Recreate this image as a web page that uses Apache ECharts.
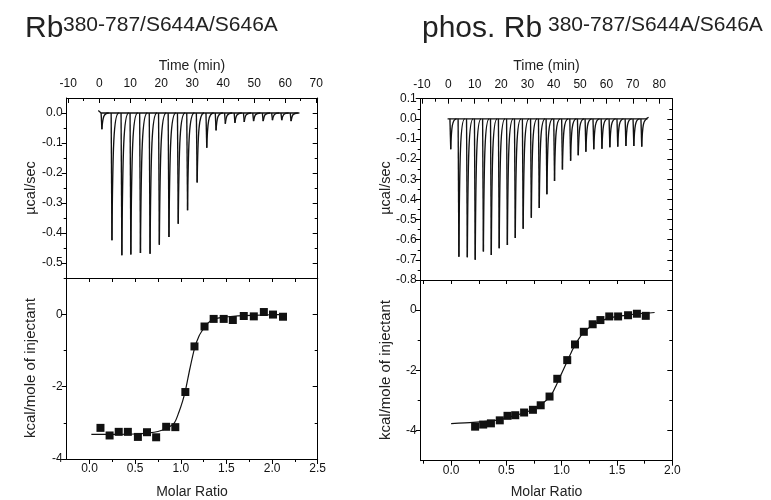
<!DOCTYPE html>
<html><head><meta charset="utf-8">
<script src="https://cdn.jsdelivr.net/npm/echarts@6/dist/echarts.min.js"></script>
<style>html,body{margin:0;padding:0;background:#fff}#c{width:771px;height:500px}</style>
</head><body><div id="c"></div>
<script>
// ---------- data: left (Rb380-787/S644A/S646A) ----------
const leftInjTime = [0.86, 4.1, 7.3, 10.2, 13.3, 16.4, 19.4, 22.5, 25.5, 28.5, 31.6, 34.7, 37.7, 40.7, 43.8, 46.8, 49.8, 52.9, 55.9, 58.9, 61.9];
const leftInjPeak = [-0.054, -0.424, -0.474, -0.472, -0.467, -0.469, -0.439, -0.413, -0.369, -0.324, -0.232, -0.116, -0.058, -0.036, -0.033, -0.030, -0.027, -0.027, -0.024, -0.024, -0.027];
const leftBaseTime = [-0.3, 0.6, 64.6];
const leftBasePower = [0.008, 0.0, 0.0];
const leftRatio = [0.12, 0.22, 0.32, 0.42, 0.53, 0.63, 0.73, 0.84, 0.94, 1.05, 1.15, 1.26, 1.36, 1.47, 1.57, 1.69, 1.80, 1.91, 2.01, 2.12];
const leftHeat = [-3.14, -3.35, -3.25, -3.25, -3.39, -3.26, -3.40, -3.11, -3.12, -2.15, -0.89, -0.34, -0.13, -0.13, -0.16, -0.05, -0.06, 0.06, -0.01, -0.07];
const leftFitRatio = [0.02, 0.3, 0.5, 0.65, 0.75, 0.84, 0.93, 0.98, 1.02, 1.05, 1.1, 1.15, 1.2, 1.26, 1.3, 1.35, 1.45, 1.6, 1.8, 2.0, 2.15];
const leftFitHeat = [-3.32, -3.32, -3.31, -3.28, -3.24, -3.16, -3.0, -2.7, -2.4, -2.12, -1.5, -0.95, -0.6, -0.36, -0.24, -0.15, -0.09, -0.05, -0.03, -0.015, -0.01];

// ---------- data: right (phos. Rb380-787/S644A/S646A) ----------
const rightInjTime = [0.9, 4.0, 7.2, 10.2, 13.3, 16.3, 19.3, 22.4, 25.4, 28.4, 31.5, 34.5, 37.4, 40.3, 43.3, 46.4, 49.3, 52.2, 55.2, 58.3, 61.3, 64.3, 67.4, 70.4, 73.4];
const rightInjPeak = [-0.151, -0.684, -0.687, -0.700, -0.659, -0.676, -0.642, -0.626, -0.592, -0.546, -0.491, -0.443, -0.374, -0.308, -0.251, -0.208, -0.181, -0.163, -0.151, -0.148, -0.141, -0.138, -0.135, -0.135, -0.138];
const rightBaseTime = [-0.3, 75.0, 76.0];
const rightBasePower = [0.0, 0.0, 0.008];
const rightRatio = [0.217, 0.29, 0.36, 0.44, 0.51, 0.58, 0.66, 0.74, 0.81, 0.89, 0.96, 1.05, 1.12, 1.20, 1.28, 1.35, 1.43, 1.51, 1.60, 1.68, 1.76];
const rightHeat = [-3.87, -3.80, -3.76, -3.66, -3.51, -3.49, -3.40, -3.31, -3.16, -2.87, -2.28, -1.66, -1.14, -0.72, -0.47, -0.33, -0.21, -0.21, -0.17, -0.12, -0.19];
const rightFitRatio = [0.0, 0.2, 0.4, 0.5, 0.6, 0.7, 0.8, 0.9, 0.95, 1.0, 1.05, 1.1, 1.15, 1.2, 1.3, 1.4, 1.5, 1.6, 1.7, 1.84];
const rightFitHeat = [-3.77, -3.73, -3.66, -3.58, -3.48, -3.36, -3.17, -2.85, -2.5, -2.1, -1.7, -1.3, -0.98, -0.73, -0.45, -0.3, -0.21, -0.16, -0.12, -0.08];

// ---------- tick labels ----------
const leftTimeTicks = [-10, 0, 10, 20, 30, 40, 50, 60, 70];
const leftTimeMinor = [-5, 5, 15, 25, 35, 45, 55, 65];
const leftPowerTicks = [0.0, -0.1, -0.2, -0.3, -0.4, -0.5];
const leftPowerMinor = [-0.05, -0.15, -0.25, -0.35, -0.45];
const leftRatioTicks = [0.0, 0.5, 1.0, 1.5, 2.0, 2.5];
const leftRatioMinor = [0.25, 0.75, 1.25, 1.75, 2.25];
const leftHeatTicks = [0, -2, -4];
const leftHeatMinor = [1, -1, -3];

const rightTimeTicks = [-10, 0, 10, 20, 30, 40, 50, 60, 70, 80];
const rightTimeMinor = [-5, 5, 15, 25, 35, 45, 55, 65, 75];
const rightPowerTicks = [0.1, 0.0, -0.1, -0.2, -0.3, -0.4, -0.5, -0.6, -0.7, -0.8];
const rightPowerMinor = [0.05, -0.05, -0.15, -0.25, -0.35, -0.45, -0.55, -0.65, -0.75];
const rightRatioTicks = [0.0, 0.5, 1.0, 1.5, 2.0];
const rightRatioMinor = [-0.25, 0.25, 0.75, 1.25, 1.75];
const rightHeatTicks = [0, -2, -4];
const rightHeatMinor = [1, -1, -3];

// ---------- layout helpers ----------
const FONT = 'Liberation Sans, Arial, sans-serif';
const INK = '#000';
const xAxes = [], yAxes = [];

function axis(gridIndex, min, max, position, opt) {
  return {
    type: 'value', gridIndex, min, max, position,
    axisLine: { show: !!opt.line, onZero: false, lineStyle: { color: INK, width: 1 } },
    axisTick: { show: !!opt.ticks, inside: !!opt.inside, length: opt.len || 5,
      customValues: opt.ticks || [], lineStyle: { color: INK, width: 1 } },
    axisLabel: { show: !!opt.labels, customValues: opt.labels || [], formatter: opt.fmt,
      fontSize: 12, color: '#111', fontFamily: FONT, margin: opt.margin || 8, showMinLabel: true, showMaxLabel: true },
    splitLine: { show: false }
  };
}
// build a framed panel; returns [xIndex, yIndex]
function panel(g, xr, yr, xPos, xMaj, xMin, xLab, xFmt, xOuter, yMaj, yMin, yLab, yFmt, xOppTicks, xOppMinor) {
  const xOpp = xPos === 'top' ? 'bottom' : 'top';
  const xi = xAxes.length;
  xAxes.push(axis(g, xr[0], xr[1], xPos, { line: true, ticks: xMaj, labels: xLab, fmt: xFmt, inside: !xOuter, len: 5, margin: xOuter ? 4 : 8 }));
  xAxes.push(axis(g, xr[0], xr[1], xPos, { ticks: xMin, inside: !xOuter, len: 3 }));
  xAxes.push(axis(g, xr[0], xr[1], xOpp, { line: true, ticks: xOppTicks, inside: true, len: 4 }));
  if (xOppMinor) xAxes.push(axis(g, xr[0], xr[1], xOpp, { ticks: xOppMinor, inside: true, len: 4 }));
  const yi = yAxes.length;
  yAxes.push(axis(g, yr[0], yr[1], 'left', { line: true, ticks: yMaj, labels: yLab, fmt: yFmt, inside: false, len: 5, margin: 4 }));
  yAxes.push(axis(g, yr[0], yr[1], 'left', { ticks: yMin, inside: false, len: 3 }));
  yAxes.push(axis(g, yr[0], yr[1], 'right', { line: true, ticks: yMaj, inside: true, len: 5 }));
  yAxes.push(axis(g, yr[0], yr[1], 'right', { ticks: yMin, inside: true, len: 3 }));
  return [xi, yi];
}
const f1 = v => (Math.round(v * 10) / 10).toFixed(1).replace('-0.0', '0.0');
const f0 = v => String(Math.round(v));

const grids = [
  { left: 66.7, top: 98, width: 251, height: 180 },
  { left: 66.7, top: 278, width: 251, height: 181 },
  { left: 420.7, top: 98.7, width: 251.6, height: 181.3 },
  { left: 420.7, top: 280, width: 251.6, height: 180.7 }
];

const pTL = panel(0, [-10.5, 70.5], [-0.55, 0.05], 'top', leftTimeTicks, leftTimeMinor, leftTimeTicks, f0, false,
  leftPowerTicks, leftPowerMinor, leftPowerTicks, f1, null, null);
const pBL = panel(1, [-0.25, 2.5], [-4, 1], 'bottom', leftRatioTicks, leftRatioMinor, leftRatioTicks, f1, true,
  leftHeatTicks, leftHeatMinor, leftHeatTicks, f0, leftRatioTicks, leftRatioMinor);
const pTR = panel(2, [-10.5, 85], [-0.8, 0.1], 'top', rightTimeTicks, rightTimeMinor, rightTimeTicks, f0, false,
  rightPowerTicks, rightPowerMinor, rightPowerTicks, f1, null, null);
const pBR = panel(3, [-0.275, 2.0], [-5, 1], 'bottom', rightRatioTicks, rightRatioMinor, rightRatioTicks, f1, true,
  rightHeatTicks, rightHeatMinor, rightHeatTicks, f0, rightRatioTicks, rightRatioMinor);

function spikeRender(recovery) {
  return function (params, api) {
    const t = api.value(0), p = api.value(1);
    const base = api.coord([t, 0]);
    const bot = api.coord([t, p]);
    const end = api.coord([t + recovery, 0]);
    const x = bot[0], y0 = base[1], yp = bot[1], w = end[0] - x;
    const st = { fill: null, stroke: '#111', lineWidth: 1.35 };
    return {
      type: 'group',
      children: [
        { type: 'line', shape: { x1: x - 0.8, y1: y0, x2: x, y2: yp }, style: st },
        { type: 'bezierCurve', shape: { x1: x, y1: yp, cpx1: x + w * 0.12, cpy1: y0 + (yp - y0) * 0.25,
          cpx2: x + w * 0.28, cpy2: y0, x2: x + w, y2: y0 }, style: st }
      ]
    };
  };
}
const zip = (a, b) => a.map((v, i) => [v, b[i]]);

const series = [
  { type: 'line', xAxisIndex: pTL[0], yAxisIndex: pTL[1], data: zip(leftBaseTime, leftBasePower), symbol: 'none',
    lineStyle: { color: '#111', width: 1.3 }, z: 3 },
  { type: 'custom', xAxisIndex: pTL[0], yAxisIndex: pTL[1], data: zip(leftInjTime, leftInjPeak), renderItem: spikeRender(2.2), z: 4 },
  { type: 'line', xAxisIndex: pTR[0], yAxisIndex: pTR[1], data: zip(rightBaseTime, rightBasePower), symbol: 'none',
    lineStyle: { color: '#111', width: 1.3 }, z: 3 },
  { type: 'custom', xAxisIndex: pTR[0], yAxisIndex: pTR[1], data: zip(rightInjTime, rightInjPeak), renderItem: spikeRender(2.2), z: 4 },
  { type: 'line', xAxisIndex: pBL[0], yAxisIndex: pBL[1], data: zip(leftFitRatio, leftFitHeat), symbol: 'none', smooth: 0.25,
    lineStyle: { color: '#111', width: 1.2 }, z: 3 },
  { type: 'scatter', xAxisIndex: pBL[0], yAxisIndex: pBL[1], data: zip(leftRatio, leftHeat), symbol: 'rect', symbolSize: 8,
    itemStyle: { color: '#111', opacity: 1 }, z: 4 },
  { type: 'line', xAxisIndex: pBR[0], yAxisIndex: pBR[1], data: zip(rightFitRatio, rightFitHeat), symbol: 'none', smooth: 0.25,
    lineStyle: { color: '#111', width: 1.2 }, z: 3 },
  { type: 'scatter', xAxisIndex: pBR[0], yAxisIndex: pBR[1], data: zip(rightRatio, rightHeat), symbol: 'rect', symbolSize: 8,
    itemStyle: { color: '#111', opacity: 1 }, z: 4 }
];

function txt(x, y, s, size) {
  return { type: 'text', x, y, style: { text: s, fontSize: size, fontFamily: FONT, fill: '#222',
    align: 'center', verticalAlign: 'middle' } };
}
function vtxt(x, y, s, size) {
  return { type: 'text', x, y, rotation: Math.PI / 2, style: { text: s, fontSize: size, fontFamily: FONT, fill: '#222',
    align: 'center', verticalAlign: 'middle' } };
}
function ltxt(x, y, s, size) {
  return { type: 'text', x, y, style: { text: s, fontSize: size, fontFamily: FONT, fill: '#222', align: 'left', verticalAlign: 'middle' } };
}

const graphic = [
  ltxt(25, 28.7, 'Rb', 30),
  ltxt(63, 25, '380-787/S644A/S646A', 21),
  ltxt(422, 28.7, 'phos. Rb', 30),
  ltxt(548, 25, '380-787/S644A/S646A', 21),
  txt(192, 66, 'Time (min)', 14),
  txt(546.5, 66, 'Time (min)', 14),
  txt(192, 492, 'Molar Ratio', 14),
  txt(546.5, 492, 'Molar Ratio', 14),
  vtxt(31, 188, 'µcal/sec', 14.5),
  vtxt(386, 188, 'µcal/sec', 14.5),
  vtxt(31, 368, 'kcal/mole of injectant', 15),
  vtxt(386, 370, 'kcal/mole of injectant', 15)
];

const chart = echarts.init(document.getElementById('c'), null, { renderer: 'canvas' });
chart.setOption({
  animation: false,
  backgroundColor: '#fff',
  grid: grids,
  xAxis: xAxes,
  yAxis: yAxes,
  series,
  graphic
});
</script></body></html>
